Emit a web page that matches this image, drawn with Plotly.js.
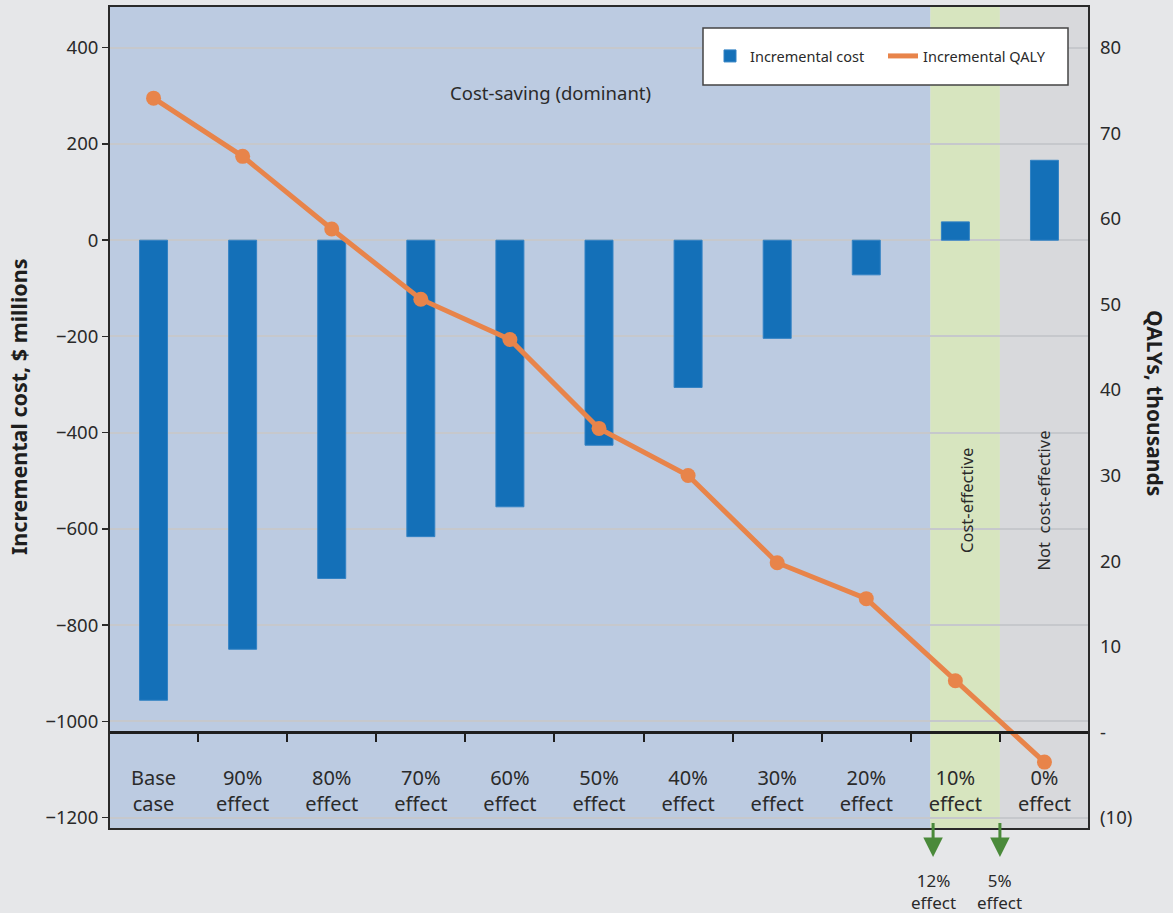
<!DOCTYPE html>
<html>
<head>
<meta charset="utf-8">
<script src="https://cdn.plot.ly/plotly-3.0.1.min.js"></script>
<style>
  html, body { margin: 0; padding: 0; background: #e6e7e9; }
  #chart { width: 1173px; height: 913px; }
</style>
</head>
<body>
<div id="chart"></div>
<script>
// ---- data ----
const categories = ['Base<br>case', '90%<br>effect', '80%<br>effect', '70%<br>effect', '60%<br>effect',
  '50%<br>effect', '40%<br>effect', '30%<br>effect', '20%<br>effect', '10%<br>effect', '0%<br>effect'];
const incrementalCost = [-956, -850, -703, -616, -554, -426, -306, -204, -72, 38, 166]; // $ millions
const incrementalQALY = [74.1, 67.3, 58.8, 50.6, 45.9, 35.5, 30.0, 19.8, 15.6, 6.0, -3.5]; // thousands
const costTickVals = [400, 200, 0, -200, -400, -600, -800, -1000, -1200];
const costTickText = ['400', '200', '0', '\u2212200', '\u2212400', '\u2212600', '\u2212800', '\u22121000', '\u22121200'];
const qalyTickVals = [80, 70, 60, 50, 40, 30, 20, 10, 0, -10];
const qalyTickText = ['80', '70', '60', '50', '40', '30', '20', '10', '-', '(10)'];
const regionNames = ['Cost-saving (dominant)', 'Cost-effective', 'Not  cost-effective'];
const regionStart = [-0.5, 8.72, 9.5];
const regionEnd = [8.72, 9.5, 10.5];
const thresholdNames = ['12%<br>effect', '5%<br>effect'];
const thresholdPos = [8.75, 9.5];

// ---- layout constants ----
const costRange = [-1223.5, 486.6];
const qalyRange = [-11.32, 84.87];
const regionColors = ['#bccbe1', '#d7e5bf', '#d8d9dc'];
const W = 1173, H = 913, ML = 109, MR = 84, MT = 6, MB = 84;
const PW = W - ML - MR, PH = H - MT - MB;
const px2x = px => (px - ML) / PW;
const px2y = py => (H - MB - py) / PH;
const axisPos = (0 - qalyRange[0]) / (qalyRange[1] - qalyRange[0]);
const FONT = 'Noto Sans, Open Sans, sans-serif';
const TXT = '#2a2a2a';

const traces = [
  {
    type: 'bar', name: 'Incremental cost', x: categories, y: incrementalCost,
    marker: { color: '#1470b8', line: { color: '#3282c4', width: 1 } },
    width: 0.314, yaxis: 'y', hoverinfo: 'x+y'
  },
  {
    type: 'scatter', mode: 'lines', name: 'Incremental QALY', x: categories, y: incrementalQALY,
    line: { color: '#e8844a', width: 5 }, yaxis: 'y2'
  },
  {
    type: 'scatter', mode: 'markers', name: 'Incremental QALY', x: categories, y: incrementalQALY,
    marker: { color: '#e8844a', size: 15 }, yaxis: 'y2', showlegend: false
  }
];

const shapes = [];
regionNames.forEach((n, i) => {
  shapes.push({
    type: 'rect', xref: 'x', yref: 'paper', x0: regionStart[i], x1: regionEnd[i], y0: 0, y1: 1,
    fillcolor: regionColors[i], line: { width: 0 }, layer: 'below'
  });
});
// legend box
shapes.push({
  type: 'rect', xref: 'paper', yref: 'paper', x0: px2x(703), x1: px2x(1068), y0: px2y(85), y1: px2y(28),
  fillcolor: '#ffffff', line: { color: '#444', width: 1.5 }, layer: 'above'
});
// plot border
shapes.push({
  type: 'rect', xref: 'paper', yref: 'paper', x0: 0, x1: 1, y0: 0, y1: 1,
  line: { color: '#2a2a2a', width: 2 }, layer: 'above'
});

const annotations = [
  {
    text: regionNames[0], xref: 'paper', yref: 'paper', x: px2x(550), y: px2y(92),
    xanchor: 'center', yanchor: 'middle',
    showarrow: false, font: { family: FONT, size: 18.5, color: TXT }
  },
  {
    text: regionNames[1], xref: 'x', yref: 'paper', x: (regionStart[1] + regionEnd[1]) / 2 + 0.02, y: px2y(500),
    xanchor: 'center', yanchor: 'middle',
    textangle: -90, showarrow: false, font: { family: FONT, size: 16.5, color: TXT }
  },
  {
    text: regionNames[2], xref: 'x', yref: 'paper', x: (regionStart[2] + regionEnd[2]) / 2, y: px2y(500),
    xanchor: 'center', yanchor: 'middle',
    textangle: -90, showarrow: false, font: { family: FONT, size: 16.5, color: TXT }
  },
  {
    text: '<b>Incremental cost, $ millions</b>', xref: 'paper', yref: 'paper', x: px2x(18), y: px2y(407),
    xanchor: 'center', yanchor: 'middle',
    textangle: -90, showarrow: false, font: { family: FONT, size: 21.5, color: '#1e1e1e' }
  },
  {
    text: '<b>QALYs, thousands</b>', xref: 'paper', yref: 'paper', x: px2x(1155), y: px2y(403),
    xanchor: 'center', yanchor: 'middle',
    textangle: 90, showarrow: false, font: { family: FONT, size: 21, color: '#1e1e1e' }
  }
];
thresholdNames.forEach((n, i) => {
  annotations.push({
    text: ' ', xref: 'x', yref: 'paper', x: thresholdPos[i], y: px2y(857),
    ax: 0, ay: -37, showarrow: true, arrowhead: 2, arrowsize: 1.3, arrowwidth: 3, arrowcolor: '#4a8a3a',
    font: { size: 2 }
  });
  annotations.push({
    text: n, xref: 'x', yref: 'paper', x: thresholdPos[i], y: px2y(891),
    xanchor: 'center', yanchor: 'middle',
    showarrow: false, font: { family: FONT, size: 17, color: TXT }
  });
});

const layout = {
  width: W, height: H,
  margin: { l: ML, r: MR, t: MT, b: MB },
  paper_bgcolor: '#e6e7e9', plot_bgcolor: 'rgba(0,0,0,0)',
  font: { family: FONT, color: TXT },
  showlegend: true,
  legend: {
    orientation: 'h', x: px2x(710), y: px2y(56), xanchor: 'left', yanchor: 'middle',
    bgcolor: 'rgba(0,0,0,0)', font: { family: FONT, size: 14.5, color: TXT }, traceorder: 'normal',
    entrywidth: 128, entrywidthmode: 'pixels'
  },
  xaxis: {
    type: 'category', range: [-0.5, 10.5], anchor: 'free', position: axisPos,
    showline: true, linecolor: '#1e1e1e', linewidth: 2.5,
    ticks: 'outside', tickson: 'boundaries', ticklen: 8, tickwidth: 2, tickcolor: '#1e1e1e',
    showgrid: false, tickfont: { family: FONT, size: 20, color: TXT }, ticklabelstandoff: 27,
    automargin: false, fixedrange: true
  },
  yaxis: {
    range: costRange, tickvals: costTickVals, ticktext: costTickText,
    showgrid: true, gridcolor: '#c6c8cc', gridwidth: 2, zeroline: false,
    ticks: 'outside', ticklen: 6, tickwidth: 1.5, tickcolor: '#2a2a2a',
    showline: false, tickfont: { family: FONT, size: 18.5, color: TXT }, automargin: false
  },
  yaxis2: {
    range: qalyRange, tickvals: qalyTickVals, ticktext: qalyTickText,
    overlaying: 'y', side: 'right', showgrid: false, zeroline: false, ticks: '',
    showline: false, tickfont: { family: FONT, size: 18.5, color: TXT }, ticklabelstandoff: 10,
    automargin: false
  },
  shapes: shapes,
  annotations: annotations
};

Plotly.newPlot('chart', traces, layout, { displayModeBar: false, staticPlot: true });
</script>
</body>
</html>
